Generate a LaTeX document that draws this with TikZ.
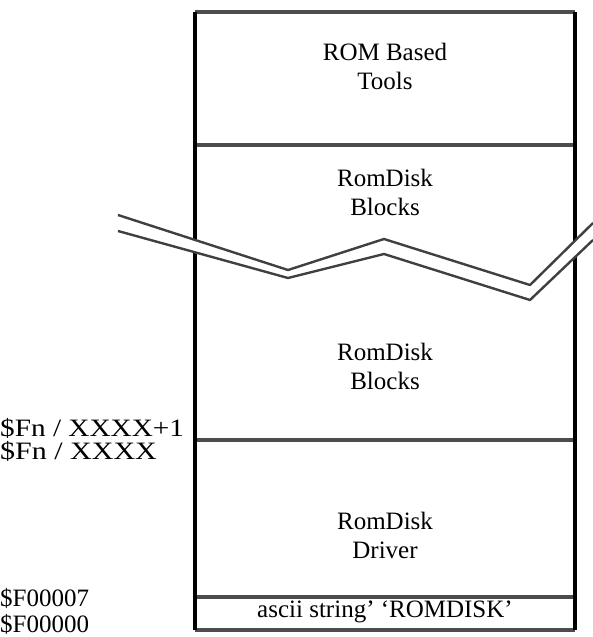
\documentclass[tikz,border=0pt]{standalone}
\usepackage{fontspec}
\setmainfont{Liberation Serif}
\begin{document}
\begin{tikzpicture}[x=1pt, y=-1pt,
      font=\fontsize{25}{29}\selectfont,
      feld/.style={align=center, inner sep=0pt},
      adresse/.style={anchor=west, inner sep=0pt},
      rand/.style={line width=3.4pt, black},
      trenner/.style={line width=3.2pt, black!70},
      bruch/.style={line width=2.4pt, black!75, line join=round}
    ]
      \useasboundingbox (0,0) rectangle (593,637);
      % Rahmen und Trennlinien
      \coordinate (ol) at (195,12);
      \coordinate (or) at (575,12);
      \coordinate (ul) at (195,630);
      \coordinate (ur) at (575,630);
      \draw[trenner] (ol) -- (or);
      \draw[trenner] (ul) -- (ur);
      \draw[trenner] (195,145) -- (575,145);
      \draw[trenner] (195,440) -- (575,440);
      \draw[trenner] (195,597) -- (575,597);
      \draw[rand] (ol) -- (ul);
      \draw[rand] (or) -- (ur);
      % Bruchkante
      \fill[white] (118,215) -- (288,270) -- (384,239) -- (530,285) -- (593,223)
        -- (593,240) -- (530,300) -- (384,254) -- (288,278) -- (118,231) -- cycle;
      \draw[bruch] (118,215) -- (288,270) -- (384,239) -- (530,285) -- (593,223);
      \draw[bruch] (118,231) -- (288,278) -- (384,254) -- (530,300) -- (593,240);
      % Inhalte
      \node[feld] (tools) at (385,66) {ROM Based\\Tools};
      \node[feld] (bloeckeo) at (385,192) {RomDisk\\Blocks};
      \node[feld] (bloeckeu) at (385,366) {RomDisk\\Blocks};
      \node[feld] (treiber) at (385,535) {RomDisk\\Driver};
      \node[feld] (kennung) at (385,612) {ascii string’ ‘ROMDISK’};
      % Adressen
      \node[adresse] (adrxp) at (0,428) {\scalebox{1.17}[1]{\$Fn / XXXX+1}};
      \node[adresse] (adrx) at (0,451) {\scalebox{1.2}[1]{\$Fn / XXXX}};
      \node[adresse] (adr7) at (0,598) {\$F00007};
      \node[adresse] (adr0) at (0,624) {\$F00000};
    \end{tikzpicture}
\end{document}
